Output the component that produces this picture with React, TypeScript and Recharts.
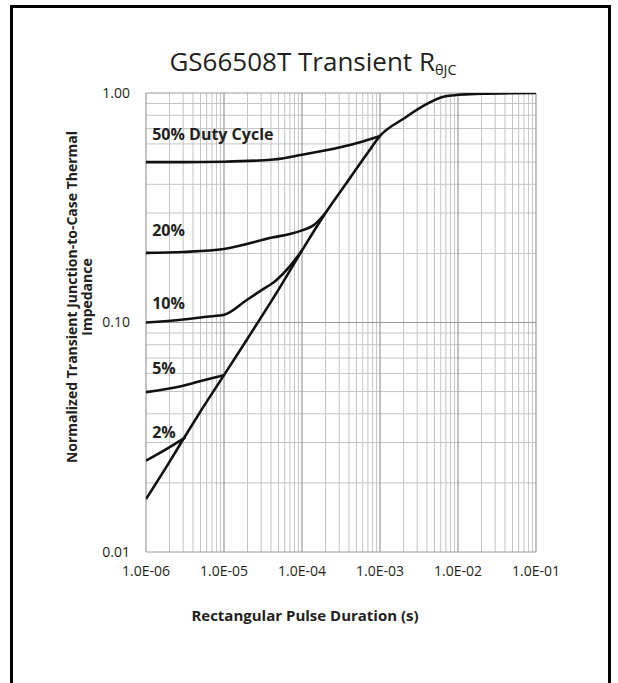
import { LineChart, Line, XAxis, YAxis, ReferenceLine, ReferenceDot } from 'recharts';

// axis decades and tick labels
const xDecades = [1e-6, 1e-5, 1e-4, 1e-3, 1e-2, 1e-1];
const xDecadeLabels = ['1.0E-06', '1.0E-05', '1.0E-04', '1.0E-03', '1.0E-02', '1.0E-01'];
const yDecades = [0.01, 0.1, 1];
const yDecadeLabels = ['0.01', '0.10', '1.00'];
const minorSteps = [2, 3, 4, 5, 6, 7, 8, 9];

// steep curve (no label in the datasheet)
const singleX = [1e-6, 2e-6, 3e-6, 5e-6, 1e-5, 2e-5, 5e-5, 1e-4, 2e-4, 4e-4, 7e-4, 1e-3, 2e-3, 4e-3, 6.5e-3, 1e-2, 2e-2, 5e-2, 1e-1];
const singleZ = [0.017, 0.0247, 0.031, 0.041, 0.059, 0.085, 0.139, 0.206, 0.3, 0.42, 0.55, 0.65, 0.772, 0.896, 0.962, 0.982, 0.992, 0.998, 1.0];

const duty2X = [1e-6, 1.8e-6, 3.2e-6];
const duty2Z = [0.025, 0.028, 0.0316];

const duty5X = [1e-6, 3e-6, 6e-6, 1e-5];
const duty5Z = [0.0497, 0.053, 0.0565, 0.059];

const duty10X = [1e-6, 3e-6, 6e-6, 1e-5, 2e-5, 3e-5, 4.6e-5, 7e-5, 1e-4];
const duty10Z = [0.1, 0.103, 0.106, 0.108, 0.126, 0.138, 0.152, 0.176, 0.206];

const duty20X = [1e-6, 3e-6, 1e-5, 4.3e-5, 7e-5, 1e-4, 1.4e-4, 2e-4];
const duty20Z = [0.201, 0.203, 0.209, 0.235, 0.243, 0.252, 0.265, 0.3];

const duty50X = [1e-6, 3e-6, 1e-5, 4.3e-5, 1e-4, 3.1e-4, 6e-4, 1e-3];
const duty50Z = [0.5, 0.5, 0.502, 0.513, 0.538, 0.58, 0.615, 0.65];

// curve labels, anchored in data space (left edge, vertical centre)
const labelText = ['50% Duty Cycle', '20%', '10%', '5%', '2%'];
const labelX = [1.2e-6, 1.2e-6, 1.2e-6, 1.2e-6, 1.2e-6];
const labelY = [0.66, 0.252, 0.121, 0.063, 0.0332];

const toPoints = (xs: number[], zs: number[]) => xs.map((x, i) => ({ x, z: zs[i] }));

const series = [
  toPoints(singleX, singleZ),
  toPoints(duty2X, duty2Z),
  toPoints(duty5X, duty5Z),
  toPoints(duty10X, duty10Z),
  toPoints(duty20X, duty20Z),
  toPoints(duty50X, duty50Z),
];

const xMinor = xDecades.slice(0, -1).flatMap(d => minorSteps.map(m => m * d));
const yMinor = yDecades.slice(0, -1).flatMap(d => minorSteps.map(m => m * d));

const FONT = '"Open Sans", "DejaVu Sans", sans-serif';
const INK = '#231f20';

const xLabel = (v: number) => {
  const i = xDecades.findIndex(d => Math.abs(v / d - 1) < 1e-6);
  return i >= 0 ? xDecadeLabels[i] : '';
};
const yLabel = (v: number) => {
  const i = yDecades.findIndex(d => Math.abs(v / d - 1) < 1e-6);
  return i >= 0 ? yDecadeLabels[i] : '';
};

function YTitle() {
  return (
    <text
      transform="translate(80,297) rotate(-90)"
      textAnchor="middle"
      style={{ fontFamily: FONT, fontSize: 14, fontWeight: 700, fill: INK }}
    >
      <tspan x={0} dy={-3}>Normalized Transient Junction-to-Case Thermal</tspan>
      <tspan x={0} dy={15}>Impedance</tspan>
    </text>
  );
}

export default function App() {
  return (
    <div style={{ position: 'absolute', left: 0, top: 0, width: 618, height: 683, background: '#fff' }}>
      <div
        style={{
          position: 'absolute',
          left: 10,
          top: 5,
          width: 595,
          height: 678,
          borderTop: '3px solid #000',
          borderLeft: '3px solid #000',
          borderRight: '3px solid #000',
        }}
      />
      <div
        style={{
          position: 'absolute',
          left: 8,
          top: 45,
          width: 610,
          textAlign: 'center',
          fontFamily: FONT,
          fontSize: 26,
          color: INK,
          lineHeight: '33px',
        }}
      >
        GS66508T Transient R
        <span style={{ fontSize: 14.5, verticalAlign: -4 }}>θJC</span>
      </div>
      <div style={{ position: 'absolute', left: 0, top: 0 }}>
        <LineChart width={618} height={683} margin={{ top: 93, right: 82, bottom: 91, left: 0 }}>
          <XAxis
            dataKey="x"
            type="number"
            scale="log"
            domain={[1e-6, 1e-1]}
            allowDataOverflow
            ticks={xDecades}
            interval={0}
            tickFormatter={xLabel}
            axisLine={false}
            tickLine={false}
            tickSize={0}
            tickMargin={14}
            height={40}
            tick={{ fill: INK, fontSize: 14, fontFamily: FONT }}
            label={{
              value: 'Rectangular Pulse Duration (s)',
              position: 'insideBottom',
              offset: -29,
              dx: -36,
              style: { fontFamily: FONT, fontSize: 15, fontWeight: 700, fill: INK },
            }}
          />
          <YAxis
            type="number"
            scale="log"
            domain={[0.01, 1]}
            allowDataOverflow
            ticks={yDecades}
            interval={0}
            tickFormatter={yLabel}
            axisLine={false}
            tickLine={false}
            tickSize={0}
            tickMargin={16}
            width={146}
            tick={{ fill: INK, fontSize: 14, fontFamily: FONT }}
            label={{ content: () => <YTitle /> }}
          />
          {xMinor.map(v => (
            <ReferenceLine key={`xm${v}`} x={v} stroke="#c4c4c4" strokeWidth={1} />
          ))}
          {yMinor.map(v => (
            <ReferenceLine key={`ym${v}`} y={v} stroke="#c4c4c4" strokeWidth={1} />
          ))}
          {xDecades.map(v => (
            <ReferenceLine key={`xM${v}`} x={v} stroke="#9a9a9a" strokeWidth={1.2} />
          ))}
          {yDecades.map(v => (
            <ReferenceLine key={`yM${v}`} y={v} stroke="#9a9a9a" strokeWidth={1.2} />
          ))}
          {series.map((d, i) => (
            <Line
              key={i}
              data={d}
              dataKey="z"
              type="monotone"
              stroke="#111"
              strokeWidth={2.6}
              dot={false}
              isAnimationActive={false}
            />
          ))}
          {labelText.map((t, i) => (
            <ReferenceDot
              key={t}
              x={labelX[i]}
              y={labelY[i]}
              r={0}
              stroke="none"
              fill="none"
              label={{
                value: t,
                position: 'right',
                offset: 0,
                style: { fontFamily: FONT, fontSize: 16, fontWeight: 700, fill: INK },
              }}
            />
          ))}
        </LineChart>
      </div>
    </div>
  );
}
